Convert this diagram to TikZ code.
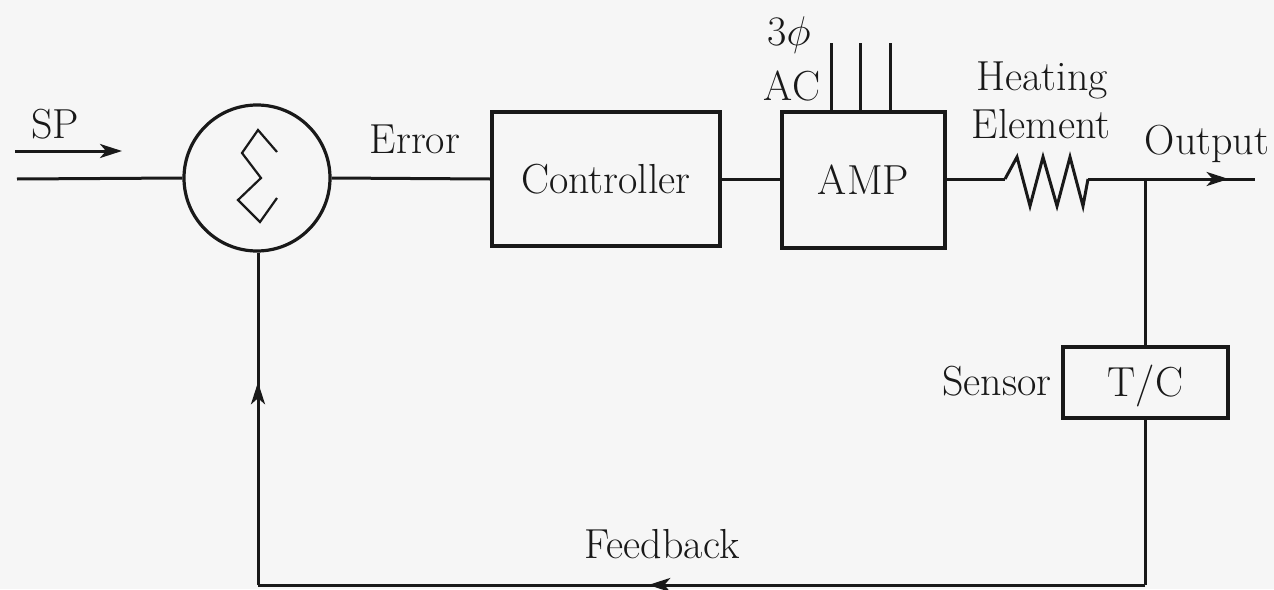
\documentclass[tikz,border=0pt]{standalone}
\usetikzlibrary{arrows.meta,decorations.markings}
\definecolor{bg}{RGB}{246,246,246}
\definecolor{ink}{RGB}{25,25,25}
\begin{document}
\begin{tikzpicture}[x=0.5pt,y=-0.5pt,
  every node/.style={font=\fontsize{21}{25}\selectfont, text=ink},
  wire/.style={draw=ink, line width=1.5pt},
  blk/.style={draw=ink, line width=1.9pt, rectangle, inner sep=0pt},
  lbl/.style={inner sep=0pt, anchor=base},
  tip/.style={-{Stealth[length=11pt,width=7pt,inset=3pt]}},
  midtip/.style={postaction={decorate,decoration={markings,mark=at position #1 with {\arrow{Stealth[length=11pt,width=7pt,inset=3pt]}}}}}
]
\fill[bg] (0,0) rectangle (1274,589);
\useasboundingbox (0,0) rectangle (1274,589);

% blocks
\node[draw=ink, line width=1.6pt, circle, minimum size=73pt, inner sep=0pt] (sum) at (257,178) {};
\node[blk, minimum width=114pt, minimum height=67pt] (ctrl) at (606,179) {};
\node[blk, minimum width=81.5pt, minimum height=68pt] (amp) at (863.5,180) {};
\node[blk, minimum width=82.5pt, minimum height=35.5pt] (tc) at (1145.5,382.5) {};

% sigma sign
\draw[ink, line width=1.1pt, line join=miter] (277,152) -- (258,130) -- (242,153) -- (261,178) -- (238,200) -- (260,222) -- (277,198);

% coordinates
\coordinate (inL) at (17,179);
\coordinate (spA) at (15,151);
\coordinate (spB) at (122,151);
\coordinate (hs) at (1005,179);
\coordinate (he) at (1088,179);
\coordinate (jn) at (1145,179);
\coordinate (outE) at (1255,179);
\coordinate (fbR) at (1145,585);
\coordinate (fbL) at (258,585);
\coordinate (p1) at (831,43);
\coordinate (p2) at (860,43);
\coordinate (p3) at (890,43);

% wires
\draw[wire] (inL) -- (sum.west);
\draw[wire, tip] (spA) -- (spB);
\draw[wire] (sum.east) -- (ctrl.west);
\draw[wire] (ctrl.east) -- (amp.west |- ctrl.east);
\draw[wire] (amp.east |- hs) -- (hs);
\draw[wire, line join=miter] (hs) -- (1017,157) -- (1030,206) -- (1043,157) -- (1057,206) -- (1070,157) -- (1083,206) -- (he);
\draw[wire] (he) -- (jn);
\draw[wire, midtip=0.76] (jn) -- (outE);
\draw[wire] (jn) -- (tc.north -| jn);
\draw[wire] (tc.south -| jn) -- (fbR);
\draw[wire, midtip=0.56] (fbR) -- (fbL);
\draw[wire, midtip=0.61] (fbL) -- (sum.south -| fbL);
\draw[wire] (p1) -- (p1 |- amp.north);
\draw[wire] (p2) -- (p2 |- amp.north);
\draw[wire] (p3) -- (p3 |- amp.north);

% labels
\node[lbl] (tSP) at (55,138) {SP};
\node[lbl] (tErr) at (415,153) {Error};
\node[lbl] (tCtrl) at ([yshift=-7.2pt]ctrl.center) {Controller};
\node[lbl] (tAmp) at ([yshift=-7.2pt]amp.center) {AMP};
\node[lbl] (tPh) at (789,45) {3$\phi$};
\node[lbl] (tAC) at (792,100) {AC};
\node[lbl] (tHeat) at (1042,90) {Heating};
\node[lbl] (tElem) at (1041,138) {Element};
\node[lbl] (tOut) at (1207,154) {Output};
\node[lbl] (tSen) at (997,395) {Sensor};
\node[lbl] (tTC) at ([yshift=-7.2pt]tc.center) {T/C};
\node[lbl] (tFb) at (662,558) {Feedback};
\end{tikzpicture}
\end{document}
